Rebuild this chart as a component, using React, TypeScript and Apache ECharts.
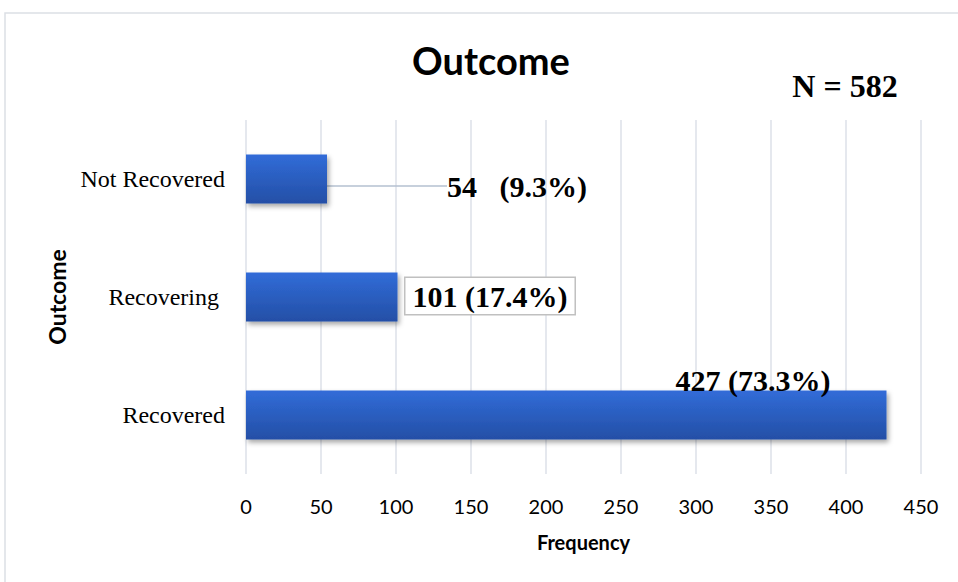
import React, { useEffect, useRef } from "react";
import * as echarts from "echarts";

const categories = ["Recovered", "Recovering ", "Not Recovered"];
const frequencies = [427, 101, 54];
const percentLabels = ["427 (73.3%)", "101 (17.4%)", "54   (9.3%)"];
const xTicks = [0, 450, 50];
const titleText = "Outcome";
const totalText = "N = 582";

export default function App() {
  const ref = useRef<HTMLDivElement>(null);
  useEffect(() => {
    document.body.style.margin = "0";
    const chart = echarts.init(ref.current!, null, { renderer: "svg" });
    const serif = "'Liberation Serif', 'Times New Roman', serif";
    const sans = "Lato, 'Open Sans', sans-serif";
    const labelBase = {
      show: true,
      position: "right",
      distance: 5,
      color: "#000",
      fontFamily: serif,
      fontWeight: "bold",
      fontSize: 30,
    };
    const data = frequencies.map((v, i) => {
      if (i === 2) {
        return {
          value: v,
          label: { ...labelBase, formatter: percentLabels[i] },
          labelLine: { show: true, lineStyle: { color: "#b4c0d0", width: 1.5 } },
        };
      }
      if (i === 1) {
        return {
          value: v,
          label: {
            ...labelBase,
            distance: 8,
            formatter: percentLabels[i],
            borderColor: "#c0c0c0",
            borderWidth: 1.5,
            backgroundColor: "#fff",
            padding: [3, 7, 3, 7],
          },
        };
      }
      return { value: v, label: { ...labelBase, formatter: percentLabels[i] } };
    });
    chart.setOption({
      animation: false,
      backgroundColor: "#fff",
      title: [
        {
          text: titleText,
          left: 486,
          top: 36,
          textAlign: "center",
          textStyle: { fontFamily: sans, fontWeight: "bold", fontSize: 38, color: "#000" },
        },
        {
          text: totalText,
          left: 840,
          top: 65,
          textAlign: "center",
          textStyle: { fontFamily: serif, fontWeight: "bold", fontSize: 32, color: "#000" },
        },
      ],
      graphic: [
        {
          type: "rect",
          shape: { x: 5, y: 13, width: 970, height: 600 },
          style: { fill: "none", stroke: "#dcdfe5", lineWidth: 1.5 },
          silent: true,
          z: -1,
        },
      ],
      grid: { left: 246, right: 37, top: 120, bottom: 108 },
      xAxis: {
        type: "value",
        min: xTicks[0],
        max: xTicks[1],
        interval: xTicks[2],
        name: "Frequency",
        nameLocation: "middle",
        nameGap: 58,
        nameTextStyle: { fontFamily: sans, fontWeight: "bold", fontSize: 20, color: "#000" },
        axisLine: { show: false },
        axisTick: { show: false },
        axisLabel: { fontFamily: sans, fontSize: 20, color: "#000", margin: 22 },
        splitLine: { lineStyle: { color: "#dde1e8", width: 1.5 } },
      },
      yAxis: {
        type: "category",
        data: categories,
        name: "Outcome",
        nameLocation: "middle",
        nameGap: 178,
        nameRotate: 90,
        nameTextStyle: { fontFamily: sans, fontWeight: "bold", fontSize: 23, color: "#000" },
        axisLine: { show: false },
        axisTick: { show: false },
        axisLabel: { fontFamily: serif, fontSize: 24, color: "#000", margin: 21 },
      },
      series: [
        {
          type: "bar",
          data,
          barWidth: 49,
          itemStyle: {
            color: new echarts.graphic.LinearGradient(0, 0, 0, 1, [
              { offset: 0, color: "#316cd8" },
              { offset: 1, color: "#244fa6" },
            ]),
            shadowColor: "rgba(0,0,0,0.35)",
            shadowBlur: 5,
            shadowOffsetX: 2,
            shadowOffsetY: 3,
          },
          labelLayout: (params: any) => {
            if (params.dataIndex === 2) return { dx: 115, dy: 7 };
            if (params.dataIndex === 0) return { dx: -216, dy: -35 };
            return { dx: 0, dy: -1 };
          },
        },
      ],
    });
    return () => chart.dispose();
  }, []);
  return <div ref={ref} style={{ width: 958, height: 582 }} />;
}
